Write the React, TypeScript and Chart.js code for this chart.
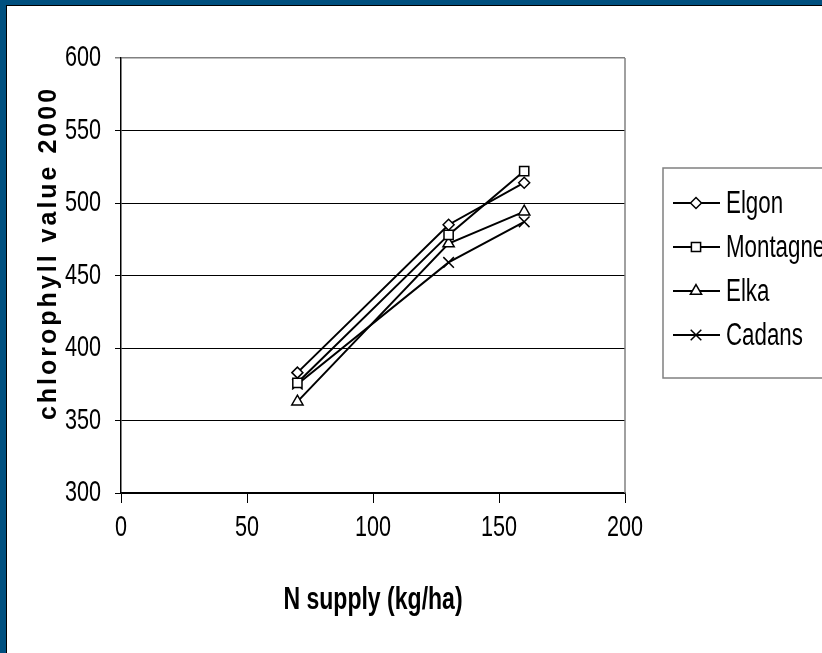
import React, { useEffect, useRef } from "react";
import { Chart, registerables } from "chart.js";
import { drawPoint } from "chart.js/helpers";

Chart.register(...registerables);

// ---- data ----
const nSupply = [70, 130, 160];
const seriesNames = ["Elgon", "Montagne", "Elka", "Cadans"];
const elgon = [383, 485, 514];
const montagne = [376, 478, 522];
const elka = [363, 472, 494];
const cadans = [375, 459, 487];
const pointStyles = ["rectRot", "rect", "triangle", "crossRot"];
const pointRadii = [5.5, 6.5, 6.5, 7.5];
const xTickValues = [0, 50, 100, 150, 200];
const yTickValues = [300, 350, 400, 450, 500, 550, 600];
const xTitle = "N supply (kg/ha)";
const yTitle = "chlorophyll value 2000";

const FONT = '"Liberation Sans", Arial, sans-serif';
const NAVY = "#00507f";

// horizontal squeeze applied to all text (mimics the narrow, tall lettering)
const textShape = { k: 0.72 };

const decorPlugin = {
  id: "decor",
  afterDraw(chart: any) {
    const ctx = chart.ctx;
    const a = chart.chartArea;
    ctx.save();
    // right plot border (grey)
    ctx.strokeStyle = "#808080";
    ctx.lineWidth = 1.5;
    ctx.beginPath();
    ctx.moveTo(a.right, a.top);
    ctx.lineTo(a.right, a.bottom);
    ctx.stroke();

    // y title (rotated, letter-spaced)
    ctx.save();
    ctx.translate(56, 253);
    ctx.rotate(-Math.PI / 2);
    ctx.fillStyle = "#000";
    ctx.font = `bold 25px ${FONT}`;
    (ctx as any).letterSpacing = "3px";
    ctx.textAlign = "center";
    ctx.textBaseline = "alphabetic";
    textShape.k = 1;
    ctx.fillText(yTitle, 0, 0);
    textShape.k = 0.72;
    (ctx as any).letterSpacing = "0px";
    ctx.restore();

    // legend
    const lx = 663, ly = 168, lw = 175, lh = 210;
    ctx.strokeStyle = "#808080";
    ctx.lineWidth = 1.5;
    ctx.strokeRect(lx, ly, lw, lh);
    ctx.font = `31px ${FONT}`;
    ctx.textAlign = "left";
    ctx.textBaseline = "middle";
    chart.data.datasets.forEach((ds: any, i: number) => {
      const y = 203 + i * 44;
      ctx.strokeStyle = "#000";
      ctx.lineWidth = 2;
      ctx.beginPath();
      ctx.moveTo(673, y);
      ctx.lineTo(720, y);
      ctx.stroke();
      ctx.fillStyle = "#fff";
      ctx.strokeStyle = "#000";
      ctx.lineWidth = 1.5;
      drawPoint(ctx, { pointStyle: ds.pointStyle, radius: ds.pointRadius, borderWidth: 1.5, rotation: 0 }, 696, y);
      ctx.fillStyle = "#000";
      ctx.fillText(ds.label, 726, y + 1);
    });
    ctx.restore();
  },
};

export default function App() {
  const ref = useRef<HTMLCanvasElement | null>(null);
  useEffect(() => {
    const canvas = ref.current;
    if (!canvas) return;
    const ctx = canvas.getContext("2d") as any;
    const origFill = CanvasRenderingContext2D.prototype.fillText;
    ctx.fillText = function (text: string, x: number, y: number) {
      this.save();
      this.translate(x, y);
      this.scale(textShape.k, 1);
      origFill.call(this, text, 0, 0);
      this.restore();
    };
    const series = [elgon, montagne, elka, cadans];
    const chart = new Chart(canvas, {
      type: "line",
      data: {
        datasets: series.map((vals, i) => ({
          label: seriesNames[i],
          data: nSupply.map((x, j) => ({ x, y: vals[j] })),
          borderColor: "#000",
          borderWidth: 2,
          backgroundColor: "#fff",
          pointStyle: pointStyles[i] as any,
          pointRadius: pointRadii[i],
          pointBorderWidth: 1.5,
          pointBackgroundColor: "#fff",
          pointBorderColor: "#000",
          tension: 0,
          fill: false,
        })),
      },
      options: {
        animation: false,
        responsive: false,
        devicePixelRatio: 1,
        layout: { padding: { left: 0, top: 58, right: 197, bottom: 0 } },
        plugins: { legend: { display: false }, tooltip: { enabled: false } },
        scales: {
          x: {
            type: "linear",
            min: 0,
            max: 200,
            afterBuildTicks: (s: any) => {
              s.ticks = xTickValues.map((v) => ({ value: v }));
            },
            afterFit: (s: any) => {
              s.height = 160;
            },
            grid: { drawOnChartArea: false, drawTicks: true, tickLength: 10, color: "#000", lineWidth: 1 },
            border: { display: true, color: "#000", width: 1.5 },
            ticks: { color: "#000", font: { family: FONT, size: 30 }, padding: 7, maxRotation: 0 },
            title: {
              display: true,
              text: xTitle,
              color: "#000",
              font: { family: FONT, size: 32, weight: "bold" },
              padding: { top: 0, bottom: 34 },
            },
          },
          y: {
            type: "linear",
            min: 300,
            max: 600,
            afterBuildTicks: (s: any) => {
              s.ticks = yTickValues.map((v) => ({ value: v }));
            },
            afterFit: (s: any) => {
              s.width = 121;
            },
            grid: {
              drawOnChartArea: true,
              drawTicks: true,
              tickLength: 6,
              color: (c: any) => (c.tick && c.tick.value === 600 ? "#808080" : "#000"),
              lineWidth: (c: any) => (c.tick && c.tick.value === 600 ? 1.5 : 1),
            },
            border: { display: true, color: "#000", width: 1.5 },
            ticks: { color: "#000", font: { family: FONT, size: 30 }, padding: 14 },
          },
        },
      },
      plugins: [decorPlugin],
    } as any);
    return () => {
      chart.destroy();
      delete ctx.fillText;
    };
  }, []);

  return (
    <div style={{ position: "fixed", left: 0, top: 0, width: 822, height: 653, background: NAVY, overflow: "hidden" }}>
      <div
        style={{
          position: "absolute",
          left: 6,
          top: 5,
          right: 0,
          bottom: 0,
          background: "#fff",
          borderLeft: "1px solid #000",
          borderTop: "1px solid #000",
        }}
      />
      <canvas ref={ref} width={822} height={653} style={{ position: "absolute", left: 0, top: 0 }} />
    </div>
  );
}
